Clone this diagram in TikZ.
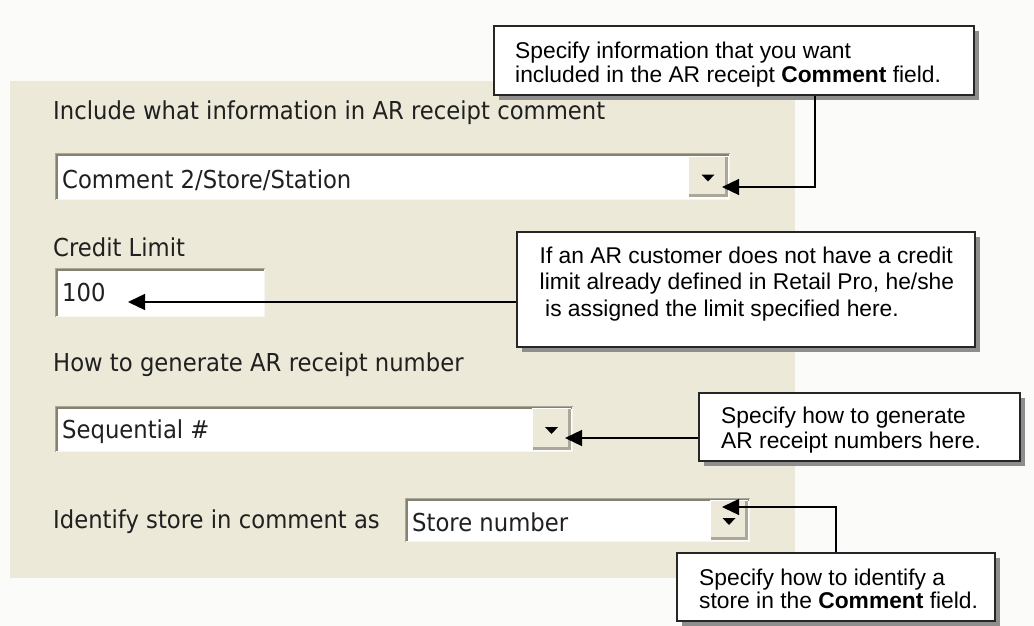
\documentclass[tikz,border=0pt]{standalone}
\usepackage{fontspec}
\setmainfont{Liberation Sans}
\newfontfamily\uifont{DejaVu Sans}[FakeStretch=0.92]
\usetikzlibrary{arrows.meta,shadows,calc}

\definecolor{pagebg}{HTML}{FBFCFA}
\definecolor{panel}{HTML}{ECE9D8}
\definecolor{edgedark}{HTML}{85826F}
\definecolor{edgemid}{HTML}{ACA899}
\definecolor{edgelight}{HTML}{F6F5EF}
\definecolor{shade}{HTML}{8E8E8E}
\definecolor{uitext}{HTML}{202020}

\tikzset{
  callout/.style={draw=black!85, line width=1.6pt, fill=white, inner sep=0pt,
    drop shadow={shadow xshift=5pt, shadow yshift=-5pt, fill=shade, opacity=1}},
  calltext/.style={anchor=base west, inner sep=0pt, text=black,
    font=\fontsize{22.8}{24}\selectfont},
  field/.style={fill=white, draw=none, inner sep=0pt},
  ddbutton/.style={fill=panel, draw=none, inner sep=0pt},
  uilabel/.style={anchor=base west, inner sep=0pt, text=uitext,
    font=\uifont\fontsize{24.7}{26}\selectfont},
  conn/.style={draw=black, line width=1.3pt,
    -{Triangle[length=17pt, width=16pt]}},
}

% sunken 3D border of an edit field
\newcommand\sunkenframe[1]{%
  \draw[edgelight, line width=1.5pt]
    ([xshift=1.5pt, yshift=.75pt]#1.south west) -| ([xshift=-.75pt, yshift=-1.5pt]#1.north east);
  \draw[edgemid, line width=1.5pt]
    ([xshift=.75pt]#1.south west) |- ([yshift=-.75pt]#1.north east);
  \draw[edgedark, line width=1.5pt]
    ([xshift=2.25pt, yshift=1.5pt]#1.south west) |- ([xshift=-1.5pt, yshift=-2.25pt]#1.north east);
}
% raised 3D border of a drop-down button, with its arrow glyph
\newcommand\raisedbutton[1]{%
  \draw[white, line width=1.5pt]
    ([xshift=.75pt]#1.south west) |- ([yshift=-.75pt]#1.north east);
  \draw[edgemid, line width=3pt]
    ([xshift=1.5pt, yshift=1.5pt]#1.south west) -| ([xshift=-1.5pt, yshift=-1.5pt]#1.north east);
  \fill[black] ($(#1.center)+(-6.5,-2)$) -- ($(#1.center)+(6.5,-2)$) -- ($(#1.center)+(0,5)$) -- cycle;
}

\begin{document}
\begin{tikzpicture}[x=1pt, y=-1pt]
  % page and dialog panel
  \fill[pagebg] (0,0) rectangle (1034,626);
  \useasboundingbox (0,0) rectangle (1034,626);
  \fill[panel] (10,81) rectangle (795,578);

  % labels
  \node[uilabel] (lab1) at (53,119.3) {Include what information in AR receipt comment};
  \node[uilabel] (lab2) at (53,256) {Credit Limit};
  \node[uilabel] (lab3) at (53,371.5) {How to generate AR receipt number};
  \node[uilabel] (lab4) at (53,528) {Identify store in comment as};

  % comment combo box
  \node[field, minimum width=675pt, minimum height=47pt] (f1) at (392.5,176.5) {};
  \sunkenframe{f1}
  \node[ddbutton, minimum width=40pt, minimum height=41pt] (b1) at (708,176.5) {};
  \raisedbutton{b1}
  \node[uilabel] (v1) at (62,188.3) {Comment 2/Store/Station};

  % credit limit edit box
  \node[field, minimum width=210pt, minimum height=49pt] (f2) at (160,292.5) {};
  \sunkenframe{f2}
  \node[uilabel] (v2) at (62,301.7) {100};

  % receipt number combo box
  \node[field, minimum width=518pt, minimum height=46pt] (f3) at (314,429) {};
  \sunkenframe{f3}
  \node[ddbutton, minimum width=39pt, minimum height=42pt] (b3) at (551.5,429) {};
  \raisedbutton{b3}
  \node[uilabel] (v3) at (62,438.3) {Sequential \#};

  % store identification combo box
  \node[field, minimum width=345pt, minimum height=44pt] (f4) at (577.5,520) {};
  \sunkenframe{f4}
  \node[ddbutton, minimum width=38pt, minimum height=40pt] (b4) at (729,520) {};
  \raisedbutton{b4}
  \node[uilabel] (v4) at (412,531.7) {Store number};

  % callout boxes
  \node[callout, minimum width=480pt, minimum height=69pt]  (c1) at (734,60.5) {};
  \node[callout, minimum width=458pt, minimum height=115pt] (c2) at (746,289.5) {};
  \node[callout, minimum width=321pt, minimum height=68pt]  (c3) at (859.5,427) {};
  \node[callout, minimum width=318pt, minimum height=68pt]  (c4) at (836,587) {};

  % callout texts
  \node[calltext] (c1a) at (515,59)   {Specify information that you want};
  \node[calltext] (c1b) at (515,82.5) {included in the AR receipt \textbf{Comment} field.};
  \node[calltext] (c2a) at (539.5,263.3) {If an AR customer does not have a credit};
  \node[calltext] (c2b) at (539.5,289.3) {limit already defined in Retail Pro, he/she};
  \node[calltext] (c2c) at (545,316)     {is assigned the limit specified here.};
  \node[calltext] (c3a) at (721,423.3) {Specify how to generate};
  \node[calltext] (c3b) at (721,448.3) {AR receipt numbers here.};
  \node[calltext] (c4a) at (699,585)   {Specify how to identify a};
  \node[calltext] (c4b) at (699,608.3) {store in the \textbf{Comment} field.};

  % arrow targets and bend points
  \coordinate (k1) at (815,0);
  \coordinate (t1) at (722,187);
  \coordinate (t2) at (128,302);
  \coordinate (t3) at (565,438);
  \coordinate (t4) at (722,507);

  % connectors
  \draw[conn] (c1.south -| k1) |- (t1);
  \draw[conn] (c2.west |- t2) -- (t2);
  \draw[conn] (c3.west |- t3) -- (t3);
  \draw[conn] (c4.north) |- (t4);
\end{tikzpicture}
\end{document}
